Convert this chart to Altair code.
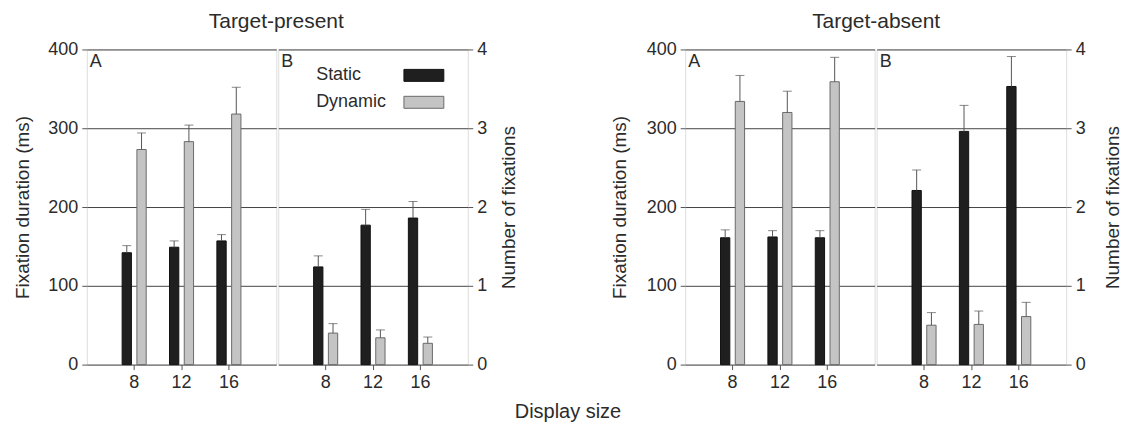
import altair as alt
import pandas as pd

sizes = ["8", "12", "16"]
conditions = ["Static", "Dynamic"]
section_letters = ["A", "B"]
panel_titles = ["Target-present", "Target-absent"]
x_title = "Display size"
dur_title = "Fixation duration (ms)"
num_title = "Number of fixations"
dur_ticks = [0, 100, 200, 300, 400]
num_ticks = [0, 1, 2, 3, 4]

# Target-present: fixation duration (ms), bar value and top of error bar
tp_dur_static = [142, 149, 157]
tp_dur_static_top = [151, 157, 165]
tp_dur_dynamic = [273, 283, 318]
tp_dur_dynamic_top = [294, 304, 352]
# Target-present: number of fixations
tp_num_static = [1.24, 1.77, 1.86]
tp_num_static_top = [1.38, 1.97, 2.07]
tp_num_dynamic = [0.40, 0.34, 0.27]
tp_num_dynamic_top = [0.52, 0.44, 0.35]

# Target-absent: fixation duration (ms)
ta_dur_static = [161, 162, 161]
ta_dur_static_top = [171, 170, 170]
ta_dur_dynamic = [334, 320, 359]
ta_dur_dynamic_top = [367, 347, 390]
# Target-absent: number of fixations
ta_num_static = [2.21, 2.96, 3.53]
ta_num_static_top = [2.47, 3.29, 3.91]
ta_num_dynamic = [0.50, 0.51, 0.61]
ta_num_dynamic_top = [0.66, 0.68, 0.79]

FONT = "Liberation Sans"
TXT = "#2b2b2b"
LINE = "#555555"
FILLS = ["#1f1f1f", "#c4c4c4"]
STROKES = ["#111111", "#6a6a6a"]


def table(s, st, d, dt):
    rows = []
    for i, sz in enumerate(sizes):
        rows.append({"size": sz, "cond": conditions[0], "value": s[i], "top": st[i]})
        rows.append({"size": sz, "cond": conditions[1], "value": d[i], "top": dt[i]})
    return pd.DataFrame(rows)


def section(df, letter, domain, ticks, title, orient, title_pad, legend=None):
    x = alt.X(
        "size:N", sort=sizes,
        scale=alt.Scale(domain=sizes, paddingInner=0, paddingOuter=0.5),
        axis=alt.Axis(title=None, labelAngle=0, domain=False, grid=False, tickSize=5,
                      tickColor=LINE, labelPadding=4, labelFontSize=18, labelColor=TXT,
                      labelFont=FONT),
    )
    xo = alt.XOffset("cond:N", sort=conditions,
                     scale=alt.Scale(domain=conditions, paddingInner=0.37, paddingOuter=0.79))
    ys = alt.Scale(domain=domain, nice=False, zero=True)
    yaxis = alt.Axis(orient=orient, values=ticks, title=title, domain=False, grid=True,
                     gridColor="#444444", gridWidth=1, tickSize=5, tickColor=LINE,
                     labelPadding=4, labelFontSize=18, labelColor=TXT, labelFont=FONT,
                     titleFontSize=19, titleFontWeight="normal", titleColor=TXT,
                     titleFont=FONT, titlePadding=title_pad, titleAngle=270,
                     titleBaseline="top" if orient == "right" else "bottom")
    if legend is None:
        color = alt.Color("cond:N", sort=conditions,
                          scale=alt.Scale(domain=conditions, range=FILLS), legend=None)
    else:
        color = alt.Color("cond:N", sort=conditions,
                          scale=alt.Scale(domain=conditions, range=FILLS), legend=legend)
    stroke = alt.Stroke("cond:N", sort=conditions,
                        scale=alt.Scale(domain=conditions, range=STROKES), legend=None)
    bars = alt.Chart(df).mark_bar(strokeWidth=1).encode(
        x=x, xOffset=xo, y=alt.Y("value:Q", scale=ys, axis=yaxis), color=color, stroke=stroke)
    rule = alt.Chart(df).mark_rule(color=LINE, strokeWidth=1).encode(
        x=x, xOffset=xo, y=alt.Y("value:Q", scale=ys, axis=yaxis), y2="top:Q")
    cap = alt.Chart(df).mark_tick(color=LINE, size=9, thickness=1).encode(
        x=x, xOffset=xo, y=alt.Y("top:Q", scale=ys, axis=yaxis))
    tag = alt.Chart(pd.DataFrame({"letter": [letter]})).mark_text(
        align="left", baseline="top", fontSize=18, font=FONT, color=TXT).encode(
        x=alt.value(3), y=alt.value(4), text="letter:N")
    return alt.layer(bars, rule, cap, tag).properties(width=190, height=316)


legend = alt.Legend(orient="none", legendX=20, legendY=17, title=None, direction="vertical",
                    symbolType="M24.25,-1.5H34.25V1.5H24.25Z", symbolSize=64,
                    symbolStrokeColor="#444444", symbolStrokeWidth=1, labelOffset=0,
                    labelFontSize=18, labelFont=FONT, labelColor=TXT, rowPadding=9, padding=0)


def panel(title, left, right):
    return alt.hconcat(
        left, right, spacing=0,
        title=alt.Title(title, fontSize=21, font=FONT, color=TXT, fontWeight="normal",
                        anchor="middle", dx=10, offset=8),
    ).resolve_scale(color="independent", stroke="independent").resolve_legend(
        color="independent", stroke="independent")


tp_a = section(table(tp_dur_static, tp_dur_static_top, tp_dur_dynamic, tp_dur_dynamic_top),
               section_letters[0], [0, 400], dur_ticks, dur_title, "left", 15)
tp_b = section(table(tp_num_static, tp_num_static_top, tp_num_dynamic, tp_num_dynamic_top),
               section_letters[1], [0, 4], num_ticks, num_title, "right", 13, legend)
ta_a = section(table(ta_dur_static, ta_dur_static_top, ta_dur_dynamic, ta_dur_dynamic_top),
               section_letters[0], [0, 400], dur_ticks, dur_title, "left", 17)
ta_b = section(table(ta_num_static, ta_num_static_top, ta_num_dynamic, ta_num_dynamic_top),
               section_letters[1], [0, 4], num_ticks, num_title, "right", 18)

chart = alt.hconcat(
    panel(panel_titles[0], tp_a, tp_b),
    panel(panel_titles[1], ta_a, ta_b),
    spacing=90,
    title=alt.Title(x_title, orient="bottom", fontSize=20, font=FONT, color=TXT,
                    fontWeight="normal", anchor="middle", offset=10),
).resolve_scale(color="independent", stroke="independent").resolve_legend(
    color="independent", stroke="independent"
).properties(
    padding={"left": 5, "top": 2, "right": 0, "bottom": 0}
).configure_view(stroke=LINE, strokeWidth=1).configure(font=FONT)

chart.save("out.html", embed_options={"renderer": "svg", "actions": False})
